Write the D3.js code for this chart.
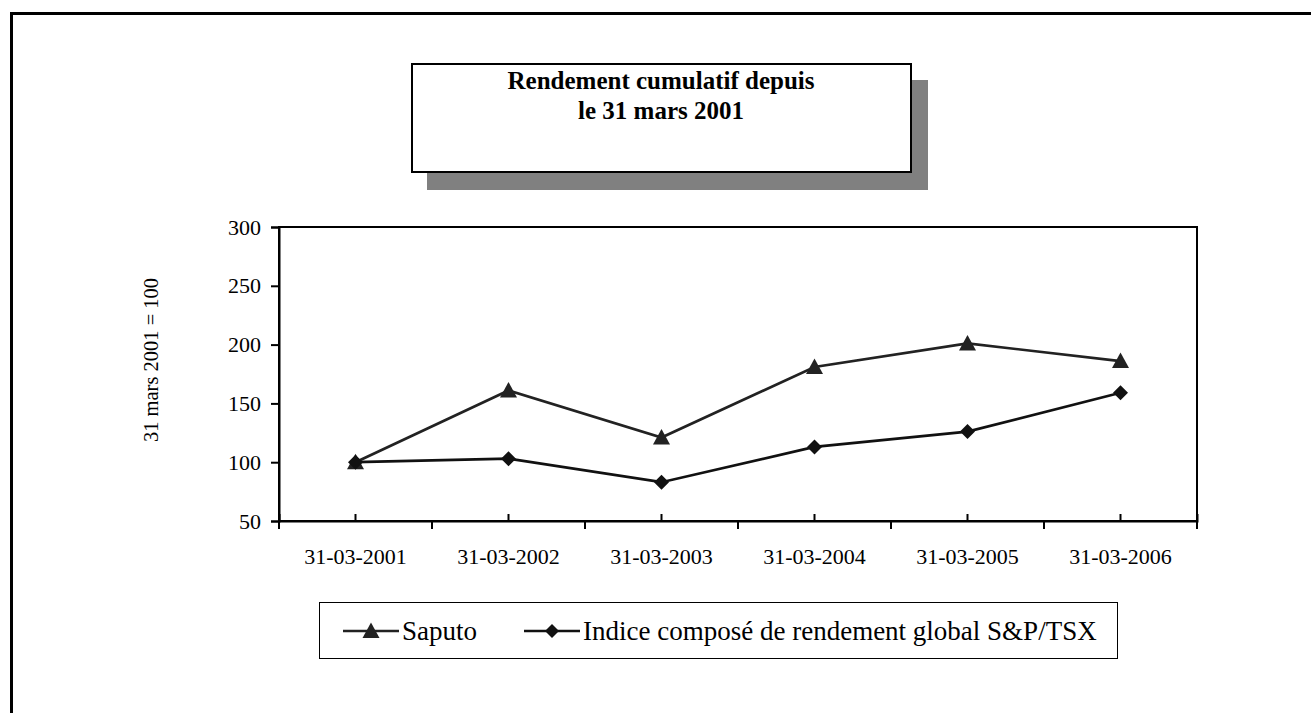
<!DOCTYPE html>
<html>
<head>
<meta charset="utf-8">
<script src="https://d3js.org/d3.v7.min.js"></script>
<style>
  body { margin: 0; background: #fff; }
  text { font-family: "Liberation Serif", "Times New Roman", serif; fill: #000; }
</style>
</head>
<body>
<div id="chart"></div>
<script>
// data
var dates = ["31-03-2001", "31-03-2002", "31-03-2003", "31-03-2004", "31-03-2005", "31-03-2006"];
var saputo = [100, 161, 121, 181, 201, 186];
var indice = [100, 103, 83, 113, 126, 159];
var yTicks = [50, 100, 150, 200, 250, 300];
var seriesNames = ["Saputo", "Indice composé de rendement global S&P/TSX"];

var width = 1311, height = 713;

var svg = d3.select("#chart").append("svg")
    .attr("width", width)
    .attr("height", height);

// outer frame (open at right/bottom, like the cropped original)
svg.append("path")
    .attr("d", "M11.5,713 V13.5 H1311")
    .attr("fill", "none")
    .attr("stroke", "#000")
    .attr("stroke-width", 3);

// title box with shadow
svg.append("rect")
    .attr("x", 427).attr("y", 80).attr("width", 501).attr("height", 110)
    .attr("fill", "#808080");
svg.append("rect")
    .attr("x", 412).attr("y", 64).attr("width", 499).attr("height", 108)
    .attr("fill", "#fff").attr("stroke", "#000").attr("stroke-width", 2);
svg.append("text")
    .attr("x", 661).attr("y", 89)
    .attr("text-anchor", "middle")
    .style("font-size", "25px").style("font-weight", "bold")
    .text("Rendement cumulatif depuis");
svg.append("text")
    .attr("x", 661).attr("y", 119)
    .attr("text-anchor", "middle")
    .style("font-size", "25px").style("font-weight", "bold")
    .text("le 31 mars 2001");

// plot area
var plotL = 279, plotR = 1197, plotT = 227, plotB = 521;

var x = d3.scaleBand().domain(dates).range([plotL, plotR]);
var y = d3.scaleLinear().domain([50, 300]).range([plotB, plotT]);

svg.append("rect")
    .attr("x", plotL).attr("y", plotT)
    .attr("width", plotR - plotL).attr("height", plotB - plotT)
    .attr("fill", "none").attr("stroke", "#000").attr("stroke-width", 2);

// y axis
var yAxis = svg.append("g")
    .attr("transform", "translate(" + plotL + ",0)")
    .call(d3.axisLeft(y).tickValues(yTicks).tickSize(8).tickPadding(10));
yAxis.select(".domain").attr("stroke-width", 2);
yAxis.selectAll(".tick line").attr("stroke-width", 2);
yAxis.selectAll("text").style("font-size", "22px").attr("font-family", null);

// x axis: labels + inner ticks at the categories
var xAxis = svg.append("g")
    .attr("transform", "translate(0," + plotB + ")")
    .call(d3.axisBottom(x).tickSize(-7).tickPadding(27));
xAxis.select(".domain").attr("stroke-width", 2);
xAxis.selectAll(".tick line").attr("stroke-width", 2);
xAxis.selectAll("text").style("font-size", "22px").attr("font-family", null);

// outer ticks at category boundaries
var bounds = dates.map(function(d) { return x(d); }).concat([plotR]);
svg.append("g").selectAll("line")
    .data(bounds)
    .enter().append("line")
    .attr("x1", function(d) { return d; })
    .attr("x2", function(d) { return d; })
    .attr("y1", plotB)
    .attr("y2", plotB + 8)
    .attr("stroke", "#000").attr("stroke-width", 2);

// y axis title
svg.append("text")
    .attr("transform", "translate(158,360) rotate(-90)")
    .attr("text-anchor", "middle")
    .style("font-size", "20.5px")
    .text("31 mars 2001 = 100");

var cx = function(i) { return x(dates[i]) + x.bandwidth() / 2; };
var line = d3.line()
    .x(function(d, i) { return cx(i); })
    .y(function(d) { return y(d); });

var tri = "M0,-8.5L8.5,7L-8.5,7Z";
var dia = function(s) {
    return "M0," + (-s) + "L" + s + ",0L0," + s + "L" + (-s) + ",0Z";
};

// Saputo
svg.append("path")
    .datum(saputo)
    .attr("d", line)
    .attr("fill", "none").attr("stroke", "#222").attr("stroke-width", 2.7);
svg.append("g").selectAll("path")
    .data(saputo)
    .enter().append("path")
    .attr("d", tri)
    .attr("transform", function(d, i) { return "translate(" + cx(i) + "," + y(d) + ")"; })
    .attr("fill", "#222");

// index
svg.append("path")
    .datum(indice)
    .attr("d", line)
    .attr("fill", "none").attr("stroke", "#111").attr("stroke-width", 2.7);
svg.append("g").selectAll("path")
    .data(indice)
    .enter().append("path")
    .attr("d", dia(7.5))
    .attr("transform", function(d, i) { return "translate(" + cx(i) + "," + y(d) + ")"; })
    .attr("fill", "#111");

// legend
svg.append("rect")
    .attr("x", 319.5).attr("y", 602.5).attr("width", 798).attr("height", 56)
    .attr("fill", "#fff").attr("stroke", "#000").attr("stroke-width", 1);

var legendItems = [
    { name: seriesNames[0], x0: 343, marker: tri, color: "#222" },
    { name: seriesNames[1], x0: 524, marker: dia(7), color: "#111" }
];
var lg = svg.append("g").selectAll("g")
    .data(legendItems)
    .enter().append("g")
    .attr("transform", function(d) { return "translate(" + d.x0 + ",631)"; });
lg.append("line")
    .attr("x1", 0).attr("x2", 56)
    .attr("stroke", function(d) { return d.color; }).attr("stroke-width", 2.5);
lg.append("path")
    .attr("d", function(d) { return d.marker; })
    .attr("transform", "translate(28,0)")
    .attr("fill", function(d) { return d.color; });
lg.append("text")
    .attr("x", 59).attr("dy", "0.35em")
    .style("font-size", "27px")
    .text(function(d) { return d.name; });
</script>
</body>
</html>
